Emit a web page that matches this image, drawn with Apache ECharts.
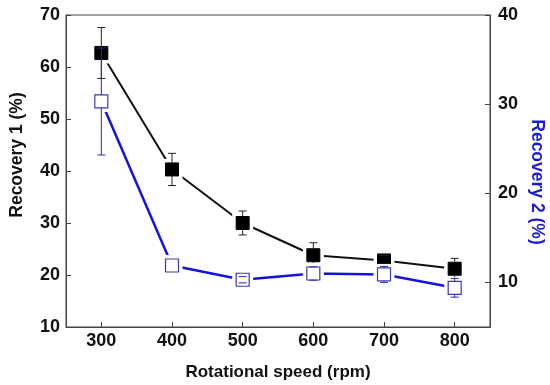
<!DOCTYPE html>
<html>
<head>
<meta charset="utf-8">
<script src="https://cdn.jsdelivr.net/npm/echarts@6/dist/echarts.min.js"></script>
<style>html,body{margin:0;padding:0;background:#fff}#c{width:550px;height:385px}</style>
</head>
<body>
<div id="c"></div>
<script>
var speeds = [300, 400, 500, 600, 700, 800];
var recovery1 = [62.7, 40.3, 30.0, 23.8, 22.8, 21.2];
var recovery1Err = [4.9, 3.1, 2.3, 2.4, 1.0, 2.0];
var recovery2 = [30.3, 11.9, 10.3, 11.0, 10.9, 9.4];
var recovery2Err = [6.0, 0, 0.35, 0.75, 0.9, 1.05];
var rightTicks = [10, 20, 30, 40];
var xTicks = [300, 400, 500, 600, 700, 800];

var FONT = 'Liberation Sans, Arial, sans-serif';
var chart = echarts.init(document.getElementById('c'));

function pairs(xs, ys) { return xs.map(function (x, i) { return [x, ys[i]]; }); }
function triples(xs, ys, es) { return xs.map(function (x, i) { return [x, ys[i], es[i]]; }); }

var MS = 13, HALF = 6.5, CAP = 4, GAP = 4;

function makeRender(filled, markColor, errColor) {
  return function (params, api) {
    var x = api.value(0), y = api.value(1), e = api.value(2);
    var c = api.coord([x, y]);
    var top = api.coord([x, y + e]);
    var bot = api.coord([x, y - e]);
    var children = [];
    children.push({ type: 'rect', shape: { x: c[0] - HALF - GAP, y: c[1] - HALF - GAP, width: MS + 2 * GAP, height: MS + 2 * GAP },
      style: { fill: '#fff' } });
    children.push({ type: 'rect', shape: { x: c[0] - HALF, y: c[1] - HALF, width: MS, height: MS },
      style: filled ? { fill: markColor, stroke: markColor, lineWidth: 1 } : { fill: '#fff', stroke: markColor, lineWidth: 1.2 } });
    if (e > 0) {
      var es = { stroke: errColor, lineWidth: 1 };
      if (top[1] < c[1] - HALF) {
        children.push({ type: 'line', shape: { x1: c[0], y1: c[1] - HALF, x2: c[0], y2: top[1] }, style: es });
      }
      if (bot[1] > c[1] + HALF) {
        children.push({ type: 'line', shape: { x1: c[0], y1: c[1] + HALF, x2: c[0], y2: bot[1] }, style: es });
      }
      children.push({ type: 'line', shape: { x1: c[0] - CAP, y1: top[1], x2: c[0] + CAP, y2: top[1] }, style: es });
      children.push({ type: 'line', shape: { x1: c[0] - CAP, y1: bot[1], x2: c[0] + CAP, y2: bot[1] }, style: es });
    }
    return { type: 'group', children: children };
  };
}

var labelStyle = { color: '#111', fontSize: 18, fontWeight: 'bold', fontFamily: FONT };

chart.setOption({
  animation: false,
  backgroundColor: '#fff',
  grid: { left: 66, right: 60, top: 15, bottom: 58, show: true, borderColor: '#444', borderWidth: 1, backgroundColor: 'transparent' },
  xAxis: {
    type: 'value', min: 250, max: 850,
    axisLine: { show: true, onZero: false, lineStyle: { color: '#444', width: 1 } },
    axisTick: { show: true, inside: true, length: 5, customValues: xTicks, lineStyle: { color: '#444' } },
    axisLabel: Object.assign({ margin: 5, customValues: xTicks }, labelStyle),
    splitLine: { show: false }
  },
  yAxis: [{
    type: 'value', min: 10, max: 70, interval: 10, position: 'left',
    axisLine: { show: true, lineStyle: { color: '#444', width: 1 } },
    axisTick: { show: true, inside: true, length: 5, lineStyle: { color: '#444' } },
    axisLabel: Object.assign({ margin: 6 }, labelStyle),
    splitLine: { show: false }
  }, {
    type: 'value', min: 5, max: 40, position: 'right',
    axisLine: { show: true, lineStyle: { color: '#444', width: 1 } },
    axisTick: { show: true, inside: true, length: 5, customValues: rightTicks, lineStyle: { color: '#444' } },
    axisLabel: Object.assign({ margin: 8, customValues: rightTicks }, labelStyle),
    splitLine: { show: false }
  }],
  graphic: [
    { id: 'l', type: 'text', x: 17, y: 155, rotation: Math.PI / 2,
      style: { text: 'Recovery 1 (%)', fill: '#111', font: 'bold 17.5px ' + FONT, align: 'center', verticalAlign: 'middle' } },
    { id: 'r', type: 'text', x: 537, y: 182, rotation: -Math.PI / 2,
      style: { text: 'Recovery 2 (%)', fill: '#1a1ad8', font: 'bold 17.5px ' + FONT, align: 'center', verticalAlign: 'middle' } },
    { id: 'b', type: 'text', x: 278, y: 372,
      style: { text: 'Rotational speed (rpm)', fill: '#111', font: 'bold 17px ' + FONT, align: 'center', verticalAlign: 'middle' } }
  ],
  series: [
    { type: 'line', yAxisIndex: 0, data: pairs(speeds, recovery1), symbol: 'none',
      lineStyle: { color: '#111', width: 2 }, z: 2 },
    { type: 'line', yAxisIndex: 1, data: pairs(speeds, recovery2), symbol: 'none',
      lineStyle: { color: '#1414e0', width: 2.5 }, z: 2 },
    { type: 'custom', yAxisIndex: 0, data: triples(speeds, recovery1, recovery1Err),
      renderItem: makeRender(true, '#000', '#222'), z: 3, clip: false },
    { type: 'custom', yAxisIndex: 1, data: triples(speeds, recovery2, recovery2Err),
      renderItem: makeRender(false, '#3a3ab0', '#2a2aa8'), z: 4, clip: false }
  ]
});
</script>
</body>
</html>
